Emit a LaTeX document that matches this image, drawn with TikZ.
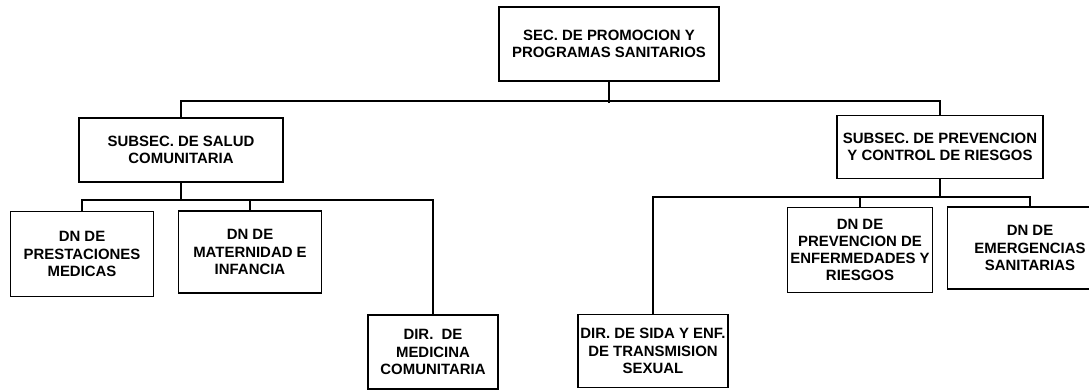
\documentclass[tikz,border=0pt]{standalone}
\usepackage{fontspec}
\setmainfont{Liberation Sans}
\usepackage{tikz}
\usetikzlibrary{shapes,positioning}
\tikzset{org/.style={rectangle,draw,line width=1pt,align=center,inner sep=1pt,font=\fontsize{8.5}{9.8}\selectfont\bfseries}}

\begin{document}
\begin{tikzpicture}[>=stealth,x=0.02cm,y=-0.02cm,line width=1pt]
    \path[use as bounding box] (0,0) rectangle (1089,391);
    \clip (0,0) rectangle (1089,391);

    \node[org,minimum width=4.4cm,minimum height=1.48cm] (sec) at (609,44) {SEC. DE PROMOCION Y\\PROGRAMAS SANITARIOS};
    \node[org,minimum width=4.08cm,minimum height=1.28cm] (salud) at (181,150) {SUBSEC. DE SALUD\\COMUNITARIA};
    \node[org,minimum width=4.12cm,minimum height=1.26cm] (riesgos) at (940,147) {SUBSEC. DE PREVENCION\\Y CONTROL DE RIESGOS};
    \node[org,minimum width=2.86cm,minimum height=1.7cm] (prest) at (82,254) {DN DE\\PRESTACIONES\\MEDICAS};
    \node[org,minimum width=2.86cm,minimum height=1.64cm] (mat) at (250,252) {DN DE\\MATERNIDAD E\\INFANCIA};
    \node[org,minimum width=2.6cm,minimum height=1.48cm] (med) at (433,352) {DIR.\ \ DE\\MEDICINA\\COMUNITARIA};
    \node[org,minimum width=3cm,minimum height=1.46cm] (sida) at (653,351) {DIR. DE SIDA Y ENF.\\DE TRANSMISION\\SEXUAL};
    \node[org,minimum width=2.9cm,minimum height=1.7cm] (prev) at (860,250) {DN DE\\PREVENCION DE\\ENFERMEDADES Y\\RIESGOS};
    \node[org,minimum width=3.3cm,minimum height=1.64cm] (emer) at (1030,248) {DN DE\\EMERGENCIAS\\SANITARIAS};

    \draw [] (sec.south) -- ++(0,21);
    \draw [] (salud.north) -- ++(0,-16) -| (riesgos.north);
    \draw [] (salud.south) -- ++(0,18);
    \draw [] (prest.north) -- ++(0,-11) -| (med.north);
    \draw [] (mat.north) -- ++(0,-11);
    \draw [] (riesgos.south) -- ++(0,19);
    \draw [] (sida.north) -- ++(0,-117) -| (emer.north);
    \draw [] (prev.north) -- ++(0,-10);
\end{tikzpicture}
\end{document}
